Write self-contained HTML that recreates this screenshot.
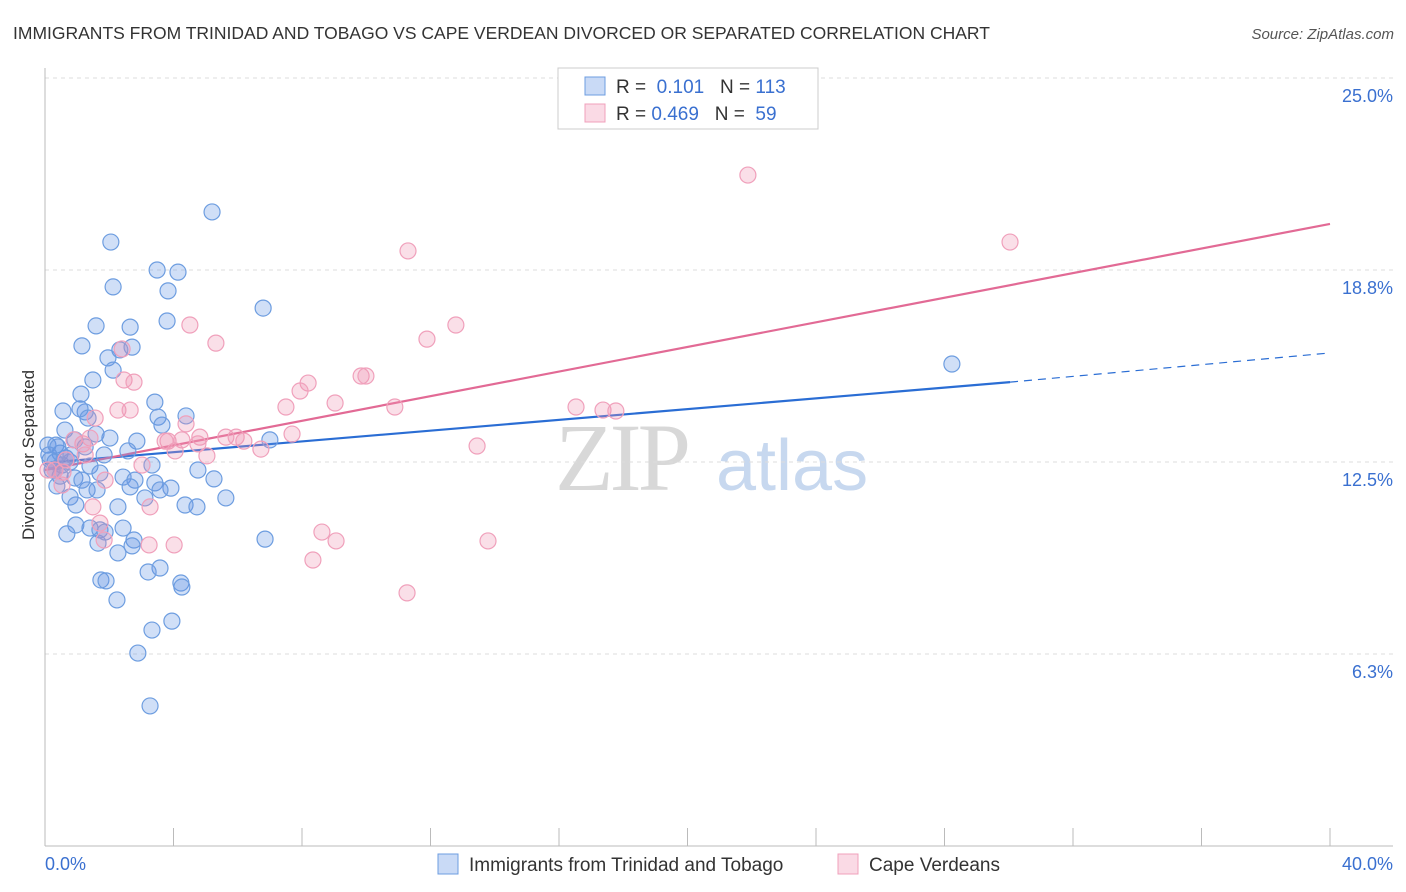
<!DOCTYPE html>
<html><head><meta charset="utf-8"><style>
body{margin:0;background:#fff;width:1406px;height:892px;overflow:hidden;font-family:"Liberation Sans",sans-serif}
svg{display:block}
</style></head><body>
<svg id="chart" width="1406" height="892" xmlns="http://www.w3.org/2000/svg">
<text x="13" y="39" font-size="17.5" fill="#333">IMMIGRANTS FROM TRINIDAD AND TOBAGO VS CAPE VERDEAN DIVORCED OR SEPARATED CORRELATION CHART</text>
<text x="1394" y="39" font-size="15" fill="#555" font-style="italic" text-anchor="end">Source: ZipAtlas.com</text>
<g>
<text x="555" y="490" font-size="96" fill="#d8d8d8" font-family="Liberation Serif,serif" letter-spacing="-4">ZIP</text>
<text x="716" y="490" font-size="72" fill="#c7d8ef">atlas</text>
</g>
<g id="grid"></g>
<g id="axes"></g>
<g id="trend"></g>
<g id="pts"></g>
<text transform="translate(34,455) rotate(-90)" font-size="17" fill="#333" text-anchor="middle">Divorced or Separated</text>
<g>
<rect x="558" y="68" width="260" height="61" fill="#fff" stroke="#ccc"/>
<rect x="585" y="77" width="20" height="18" fill="rgba(100,150,230,0.35)" stroke="#6d9de0"/>
<rect x="585" y="104" width="20" height="18" fill="rgba(240,150,180,0.35)" stroke="#f0a0bb"/>
<text x="616" y="93" font-size="19" fill="#333">R = <tspan fill="#3a70d0">&#160;0.101</tspan>&#160;&#160;&#160;N = <tspan fill="#3a70d0">113</tspan></text>
<text x="616" y="120" font-size="19" fill="#333">R = <tspan fill="#3a70d0">0.469</tspan>&#160;&#160;&#160;N = <tspan fill="#3a70d0">&#160;59</tspan></text>
</g>
<g>
<rect x="438" y="854" width="20" height="20" fill="rgba(100,150,230,0.35)" stroke="#6d9de0"/>
<text x="469" y="871" font-size="19" fill="#333">Immigrants from Trinidad and Tobago</text>
<rect x="838" y="854" width="20" height="20" fill="rgba(240,150,180,0.35)" stroke="#f0a0bb"/>
<text x="869" y="871" font-size="19" fill="#333">Cape Verdeans</text>
</g>
</svg>
<script>
const blueX=[5.20,2.05,3.49,4.14,2.12,3.83,6.79,3.80,1.59,2.65,1.15,2.71,2.33,1.96,2.12,1.49,1.12,3.42,0.56,1.25,1.09,4.39,3.52,1.34,0.62,1.59,2.02,2.86,3.64,7.00,0.09,0.34,0.93,1.25,0.47,1.84,2.58,3.33,4.76,0.16,0.31,0.53,0.78,1.40,1.71,2.43,2.80,5.26,0.37,0.93,1.31,1.62,1.15,2.65,3.42,3.92,3.58,5.63,0.78,3.11,4.36,4.73,2.27,0.96,1.40,1.71,2.43,0.68,1.65,1.87,2.77,2.71,2.27,6.85,3.58,3.21,1.74,1.90,4.23,4.26,2.24,3.33,3.95,2.89,3.27,28.23,0.31,0.47,0.12,0.65,0.81,0.40,0.22,0.96];
const blueY=[20.64,19.66,18.75,18.68,18.20,18.07,17.51,17.09,16.93,16.89,16.28,16.24,16.15,15.89,15.49,15.17,14.71,14.45,14.16,14.13,14.23,14.00,13.96,13.93,13.54,13.41,13.28,13.18,13.70,13.22,13.05,13.05,13.22,12.99,12.79,12.73,12.86,12.40,12.24,12.57,12.50,12.40,12.50,12.37,12.14,12.01,11.91,11.95,11.72,11.98,11.59,11.59,11.91,11.69,11.82,11.65,11.59,11.33,11.36,11.33,11.10,11.04,11.04,10.45,10.35,10.29,10.35,10.16,9.86,10.22,9.96,9.77,9.54,9.99,9.05,8.92,8.66,8.63,8.56,8.43,8.01,7.03,7.32,6.28,4.56,15.69,12.24,12.04,12.73,12.63,12.73,12.99,12.24,11.10];
const pinkX=[21.88,30.04,11.30,12.79,4.51,11.89,5.32,2.40,9.84,9.99,8.19,7.94,9.03,7.50,10.89,16.53,17.37,17.77,2.46,2.77,2.27,2.65,1.56,1.40,1.18,4.39,3.83,3.74,4.26,4.82,5.63,5.95,6.19,6.72,7.69,13.45,5.04,4.76,4.05,3.02,1.87,0.53,0.56,0.09,0.31,3.27,1.71,1.49,1.84,3.24,4.02,8.62,9.06,8.34,13.79,11.27,0.90,1.25,0.65];
const pinkY=[21.84,19.66,19.37,16.96,16.96,16.50,16.37,16.18,15.30,15.30,15.07,14.81,14.42,14.29,14.29,14.29,14.19,14.16,15.17,15.10,14.19,14.19,13.93,13.28,13.09,13.74,13.18,13.18,13.22,13.31,13.31,13.31,13.18,12.92,13.41,13.02,12.70,13.09,12.86,12.40,11.91,11.75,12.17,12.24,12.24,11.04,10.51,11.04,9.96,9.80,9.80,10.22,9.93,9.31,9.93,8.24,13.22,12.73,12.57];
const blueTrend=[12.47,15.10,16.05]; // at x=0, x=30.04 (solid end), x=40
const blueSolidEnd=30.04;
const pinkTrend=[12.24,20.25]; // at x=0, x=40
const yTicks=[6.25,12.5,18.75,25];
const yTickLabels=["6.3%","12.5%","18.8%","25.0%"];
const xTicks=[0,4,8,12,16,20,24,28,32,36,40];
const NS="http://www.w3.org/2000/svg";
const sx=v=>45+v*(1285/40);
const sy=v=>846-v*30.72;
function mk(parent,tag,attrs){const e=document.createElementNS(NS,tag);for(const k in attrs)e.setAttribute(k,attrs[k]);document.getElementById(parent).appendChild(e);return e;}
yTicks.forEach((t,i)=>{
 const g=mk('grid','line',{x1:45,x2:1393,y1:sy(t),y2:sy(t),stroke:'#ddd','stroke-dasharray':'4,4'});
 
 
 const l=mk('axes','text',{x:1393,y:sy(t)+24,'font-size':18,fill:'#3a70d0','text-anchor':'end'});
 l.textContent=yTickLabels[i];
 
 
});
const ax=mk('axes','line',{x1:45,x2:1393,y1:846,y2:846,stroke:'#bbb'});


const ay=mk('axes','line',{x1:45,x2:45,y1:68,y2:846,stroke:'#bbb'});


xTicks.forEach(t=>{
 const k=mk('axes','line',{x1:sx(t),x2:sx(t),y1:828,y2:846,stroke:'#bbb'});
 
 
});
const xl0=mk('axes','text',{x:45,y:870,'font-size':18,fill:'#3a70d0'});xl0.textContent="0.0%";


const xl1=mk('axes','text',{x:1393,y:870,'font-size':18,fill:'#3a70d0','text-anchor':'end'});xl1.textContent="40.0%";


blueX.forEach((x,i)=>{
 const c=mk('pts','circle',{cx:sx(x),cy:sy(blueY[i]),r:8,fill:'rgba(100,150,230,0.3)',stroke:'#6d9de0','stroke-width':1.2});
 
 
});
pinkX.forEach((x,i)=>{
 const c=mk('pts','circle',{cx:sx(x),cy:sy(pinkY[i]),r:8,fill:'rgba(240,150,180,0.3)',stroke:'#f0a0bb','stroke-width':1.2});
 
 
});
const bl=mk('trend','line',{x1:sx(0),y1:sy(blueTrend[0]),x2:sx(blueSolidEnd),y2:sy(blueTrend[1]),stroke:'#2a6dd4','stroke-width':2.2});


const bd=mk('trend','line',{x1:sx(blueSolidEnd),y1:sy(blueTrend[1]),x2:sx(40),y2:sy(blueTrend[2]),stroke:'#2a6dd4','stroke-width':1.2,'stroke-dasharray':'8,6'});


const pl=mk('trend','line',{x1:sx(0),y1:sy(pinkTrend[0]),x2:sx(40),y2:sy(pinkTrend[1]),stroke:'#e26a95','stroke-width':2.2});


</script>
</body></html>
